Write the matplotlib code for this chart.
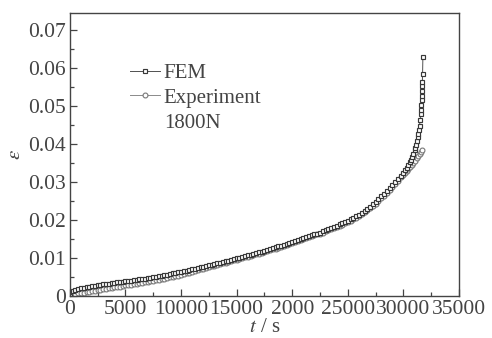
import numpy as np
import matplotlib
matplotlib.use('Agg')
import matplotlib.pyplot as plt
from matplotlib.ticker import MultipleLocator

plt.rcParams['font.family'] = ['Liberation Serif', 'DejaVu Serif']
plt.rcParams['mathtext.fontset'] = 'stix'

# creep strain vs time, 1800N load
fem_t = [0, 250, 500, 750, 1000, 1250, 1500, 1750, 2000, 2250,
         2500, 2750, 3000, 3250, 3500, 3750, 4000, 4250, 4500, 4750,
         5000, 5250, 5500, 5750, 6000, 6250, 6500, 6750, 7000, 7250,
         7500, 7750, 8000, 8250, 8500, 8750, 9000, 9250, 9500, 9750,
         10000, 10250, 10500, 10750, 11000, 11250, 11500, 11750, 12000, 12250,
         12500, 12750, 13000, 13250, 13500, 13750, 14000, 14250, 14500, 14750,
         15000, 15250, 15500, 15750, 16000, 16250, 16500, 16750, 17000, 17250,
         17500, 17750, 18000, 18250, 18500, 18750, 19000, 19250, 19500, 19750,
         20000, 20250, 20500, 20750, 21000, 21250, 21500, 21750, 22000, 22250,
         22500, 22750, 23000, 23250, 23500, 23750, 24000, 24250, 24500, 24750,
         25000, 25250, 25500, 25750, 26000, 26250, 26500, 26750, 27000, 27250,
         27500, 27750, 28000, 28250, 28500, 28750, 29000, 29250, 29500, 29750,
         30000, 30150, 30300, 30450, 30600, 30700, 30800, 30900, 31000, 31075,
         31150, 31225, 31300, 31350, 31400, 31450, 31500, 31550, 31580, 31610,
         31630, 31650, 31670, 31690, 31700, 31720, 31750]
fem_eps = [0.0, 0.0013, 0.0016, 0.0018, 0.0020, 0.00215, 0.0023, 0.00245, 0.0026, 0.0027,
           0.0028, 0.00295, 0.0031, 0.0032, 0.0033, 0.0034, 0.0035, 0.0036, 0.0037, 0.0038,
           0.0039, 0.0040, 0.0041, 0.0042, 0.0043, 0.0044, 0.0045, 0.0046, 0.0047, 0.0048,
           0.0049, 0.00505, 0.0052, 0.00535, 0.0055, 0.00565, 0.0058, 0.00595, 0.0061, 0.00625,
           0.0064, 0.00655, 0.0067, 0.00685, 0.0070, 0.0072, 0.0074, 0.00755, 0.0077, 0.0079,
           0.0081, 0.00825, 0.0084, 0.0086, 0.0088, 0.00895, 0.0091, 0.0093, 0.0095, 0.0097,
           0.0099, 0.0101, 0.0103, 0.0105, 0.0107, 0.0109, 0.0111, 0.0113, 0.0115, 0.0117,
           0.0119, 0.01215, 0.0124, 0.0126, 0.0128, 0.01305, 0.0133, 0.01355, 0.0138, 0.01405,
           0.0143, 0.0145, 0.0147, 0.01495, 0.0152, 0.01545, 0.0157, 0.01595, 0.0162, 0.01645,
           0.0167, 0.0170, 0.0173, 0.0176, 0.0179, 0.0182, 0.0185, 0.01885, 0.0192, 0.0195,
           0.0198, 0.0202, 0.0206, 0.0210, 0.0214, 0.0219, 0.0224, 0.02295, 0.0235, 0.02415,
           0.0248, 0.0255, 0.0262, 0.02695, 0.0277, 0.02845, 0.0292, 0.0300, 0.0308, 0.03165,
           0.0325, 0.0331, 0.0338, 0.0345, 0.0353, 0.0359, 0.0366, 0.0374, 0.0383, 0.0390,
           0.0398, 0.0407, 0.0418, 0.0426, 0.0436, 0.0448, 0.0462, 0.0478, 0.0490, 0.0503,
           0.0515, 0.0527, 0.0540, 0.0553, 0.0562, 0.0583, 0.0630]

exp_t = [0, 250, 500, 750, 1000, 1250, 1500, 1750, 2000, 2250,
         2500, 2750, 3000, 3250, 3500, 3750, 4000, 4250, 4500, 4750,
         5000, 5250, 5500, 5750, 6000, 6250, 6500, 6750, 7000, 7250,
         7500, 7750, 8000, 8250, 8500, 8750, 9000, 9250, 9500, 9750,
         10000, 10250, 10500, 10750, 11000, 11250, 11500, 11750, 12000, 12250,
         12500, 12750, 13000, 13250, 13500, 13750, 14000, 14250, 14500, 14750,
         15000, 15250, 15500, 15750, 16000, 16250, 16500, 16750, 17000, 17250,
         17500, 17750, 18000, 18250, 18500, 18750, 19000, 19250, 19500, 19750,
         20000, 20250, 20500, 20750, 21000, 21250, 21500, 21750, 22000, 22250,
         22500, 22750, 23000, 23250, 23500, 23750, 24000, 24250, 24500, 24750,
         25000, 25250, 25500, 25750, 26000, 26250, 26500, 26750, 27000, 27250,
         27500, 27750, 28000, 28250, 28500, 28750, 29000, 29250, 29500, 29750,
         30000, 30150, 30300, 30450, 30600, 30750, 30900, 31050, 31200, 31350,
         31500, 31600, 31700]
exp_eps = [0.0, 0.0003, 0.0005, 0.0007, 0.0008, 0.0009, 0.0010, 0.00115, 0.0013, 0.0014,
           0.0015, 0.00165, 0.0018, 0.0019, 0.0020, 0.00215, 0.0023, 0.0024, 0.0025, 0.00265,
           0.0028, 0.0029, 0.0030, 0.00315, 0.0033, 0.0034, 0.0035, 0.00365, 0.0038, 0.0039,
           0.0040, 0.00415, 0.0043, 0.00445, 0.0046, 0.00475, 0.0049, 0.00505, 0.0052, 0.0054,
           0.0056, 0.0058, 0.0060, 0.0062, 0.0064, 0.0066, 0.0068, 0.0070, 0.0072, 0.0074,
           0.0076, 0.0078, 0.0080, 0.0082, 0.0084, 0.0086, 0.0088, 0.0090, 0.0092, 0.0094,
           0.0096, 0.0098, 0.0100, 0.0102, 0.0104, 0.0106, 0.0108, 0.0110, 0.0112, 0.0114,
           0.0116, 0.01185, 0.0121, 0.0123, 0.0125, 0.01275, 0.0130, 0.01325, 0.0135, 0.01375,
           0.0140, 0.01425, 0.0145, 0.01475, 0.0150, 0.01525, 0.0155, 0.0158, 0.0161, 0.01625,
           0.0164, 0.0167, 0.0170, 0.0173, 0.0176, 0.0179, 0.0182, 0.0185, 0.0188, 0.0191,
           0.0194, 0.0198, 0.0202, 0.0206, 0.0211, 0.0216, 0.0221, 0.0226, 0.0231, 0.0237,
           0.0243, 0.0250, 0.0257, 0.0264, 0.0272, 0.0280, 0.0288, 0.0296, 0.0304, 0.0312,
           0.0319, 0.0324, 0.0329, 0.0334, 0.0339, 0.0345, 0.0350, 0.0356, 0.0362, 0.0368,
           0.0374, 0.0379, 0.0384]

x_ticks = [0, 5000, 10000, 15000, 20000, 25000, 30000, 35000]
x_labels = ['0', '5000', '10000', '15000', '2000', '25000', '30000', '35000']
y_ticks = [0, 0.01, 0.02, 0.03, 0.04, 0.05, 0.06, 0.07]
y_labels = ['0', '0.01', '0.02', '0.03', '0.04', '0.05', '0.06', '0.07']

fig = plt.figure(figsize=(4.92, 3.38), dpi=100)
ax = fig.add_axes([0.142, 0.124, 0.791, 0.838])

ax.plot(exp_t, exp_eps, '-', color='#8a8a8a', lw=0.7, marker='o', ms=3.5,
        mfc='white', mec='#777777', mew=0.8, label='Experiment')
ax.plot(fem_t, fem_eps, '-', color='#505050', lw=0.7, marker='s', ms=3.3,
        mfc='white', mec='#383838', mew=0.85, label='FEM')

ax.set_xlim(0, 35000)
ax.set_ylim(0, 0.0745)
ax.set_xticks(x_ticks)
ax.set_xticklabels(x_labels)
ax.set_yticks(y_ticks)
ax.set_yticklabels(y_labels)
ax.xaxis.set_minor_locator(MultipleLocator(2500))
ax.yaxis.set_minor_locator(MultipleLocator(0.005))
ax.tick_params(which='both', direction='in', labelsize=15.5, colors='#444444', pad=3)
ax.tick_params(which='major', length=5, width=0.9)
ax.tick_params(which='minor', length=3, width=0.9)
for sp in ax.spines.values():
    sp.set_color('#444444')
    sp.set_linewidth(1.0)

ax.set_xlabel('$t$ / s', fontsize=15, color='#444444', labelpad=-1)
ax.set_ylabel(r'$\varepsilon$', fontsize=15, color='#444444', labelpad=2)

handles, labels = ax.get_legend_handles_labels()
leg = ax.legend(handles[::-1], labels[::-1], loc='upper left',
                bbox_to_anchor=(0.154, 0.82), frameon=False,
                fontsize=15, handlelength=1.45, handletextpad=0.15, labelspacing=0.22,
                borderpad=0, borderaxespad=0, labelcolor='#444444')
ax.text(0.242, 0.61, '1800N', transform=ax.transAxes, fontsize=15,
        color='#444444', va='center', ha='left')

fig.savefig('out.png', dpi=100)
